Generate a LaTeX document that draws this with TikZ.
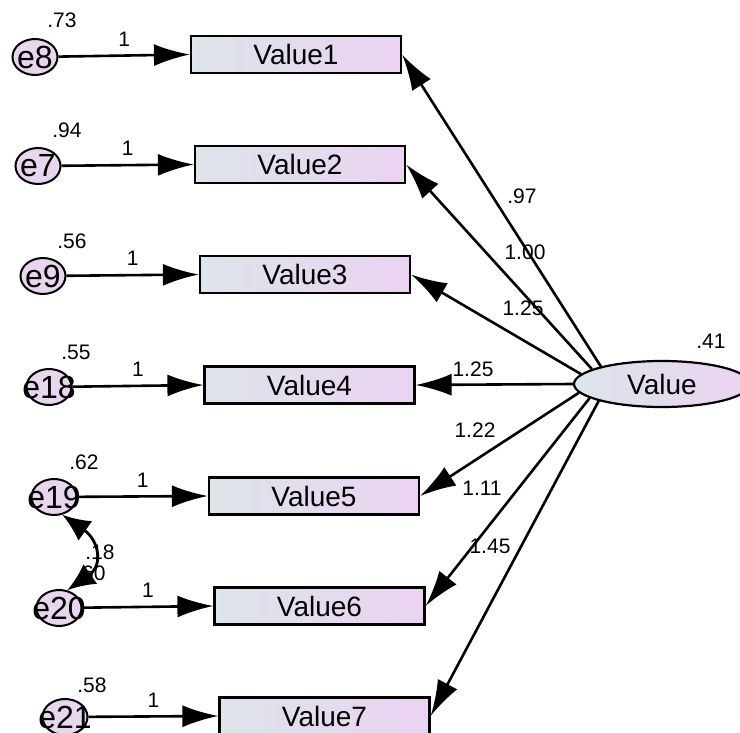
\documentclass[tikz,border=0pt]{standalone}
\usepackage{fontspec}
\setmainfont{Liberation Sans}
\usetikzlibrary{arrows.meta,shapes.geometric}
\definecolor{gL}{HTML}{DDE4EA}
\definecolor{gR}{HTML}{EBD3F1}
\definecolor{eF}{HTML}{E8D6EE}
\tikzset{
  obs/.style={draw, line width=2.2pt, minimum width=210pt, minimum height=37pt, inner sep=0pt,
    left color=gL, right color=gR, font=\fontsize{28}{30}\selectfont},
  err/.style={draw, ellipse, line width=2pt, minimum width=45pt, minimum height=36pt, inner sep=0pt,
    fill=eF},
  errlab/.style={font=\fontsize{32}{34}\selectfont, inner sep=0pt},
  lat/.style={draw, ellipse, line width=2.2pt, minimum width=176pt, minimum height=46pt, inner sep=0pt,
    left color=gL, right color=gR, font=\fontsize{28}{30}\selectfont},
  num/.style={font=\fontsize{21}{22}\selectfont, inner sep=0pt},
  path/.style={line width=2.6pt, -{Latex[length=36pt,width=22pt]}},
  cov/.style={line width=2.8pt, {Latex[length=28pt,width=24pt]}-{Latex[length=28pt,width=24pt]}}
}
\begin{document}
\begin{tikzpicture}[x=1pt,y=-1pt]
\useasboundingbox (0,0) rectangle (740,733);
\clip (0,0) rectangle (740,733);
\fill[white] (0,0) rectangle (740,733);
% observed
\node[obs] (v1) at (296,54.5) {Value1};
\node[obs] (v2) at (300,164.5) {Value2};
\node[obs] (v3) at (305,274.5) {Value3};
\node[obs] (v4) at (309.5,385) {Value4};
\node[obs] (v5) at (314,496) {Value5};
\node[obs] (v6) at (319.5,606) {Value6};
\node[obs] (v7) at (324.5,716) {Value7};
% latent
\node[lat] (val) at (662,384) {Value};
\node[num] (var) at (711,341) {.41};
% errors
\node[err] (e8) at (35,57) {};
\node[err] (e7) at (38,166) {};
\node[err] (e9) at (43,276) {};
\node[err] (e18) at (49,387) {};
\node[err] (e19) at (54,497) {};
\node[err] (e20) at (59,608) {};
\node[err] (e21) at (65,717) {};
\node[errlab] (t8) at (e8) {e8};
\node[errlab] (t7) at (e7) {e7};
\node[errlab] (t9) at (e9) {e9};
\node[errlab] (t18) at (e18) {e18};
\node[errlab] (t19) at (e19) {e19};
\node[errlab] (t20) at (e20) {e20};
\node[errlab] (t21) at (e21) {e21};
% variances
\node[num] (w8) at (62,20) {.73};
\node[num] (w7) at (67,130) {.94};
\node[num] (w9) at (72,241) {.56};
\node[num] (w18) at (76,352) {.55};
\node[num] (w19) at (84,462) {.62};
\node[num] (w20) at (91,573) {.60};
\node[num] (w21) at (92,685) {.58};
% error paths
\draw[path] (e8) -- (v1.west) node[num, midway, above=8pt] {1};
\draw[path] (e7) -- (v2.west) node[num, midway, above=8pt] {1};
\draw[path] (e9) -- (v3.west) node[num, midway, above=8pt] {1};
\draw[path] (e18) -- (v4.west) node[num, midway, above=8pt] {1};
\draw[path] (e19) -- (v5.west) node[num, midway, above=8pt] {1};
\draw[path] (e20) -- (v6.west) node[num, midway, above=8pt] {1};
\draw[path] (e21) -- (v7.west) node[num, midway, above=8pt] {1};
% loadings
\draw[path] (val.164) -- (v1.east);
\draw[path] (val.168) -- (v2.east);
\draw[path] (val.173) -- (v3.east);
\draw[path] (val.180) -- (v4.east);
\draw[path] (val.186) -- (v5.east);
\draw[path] (val.191) -- (v6.east);
\draw[path] (val.195) -- (v7.east);
\node[num] (l1) at (522,196) {.97};
\node[num] (l2) at (525,252) {1.00};
\node[num] (l3) at (523,308) {1.25};
\node[num] (l4) at (473,369) {1.25};
\node[num] (l5) at (475,430) {1.22};
\node[num] (l6) at (482,488) {1.11};
\node[num] (l7) at (490,546) {1.45};
% covariance
\draw[cov] (e19.-65) to[out=-35, in=35, looseness=1.5] (e20.65);
\node[num] (c) at (100,552) {.18};
\end{tikzpicture}
\end{document}
